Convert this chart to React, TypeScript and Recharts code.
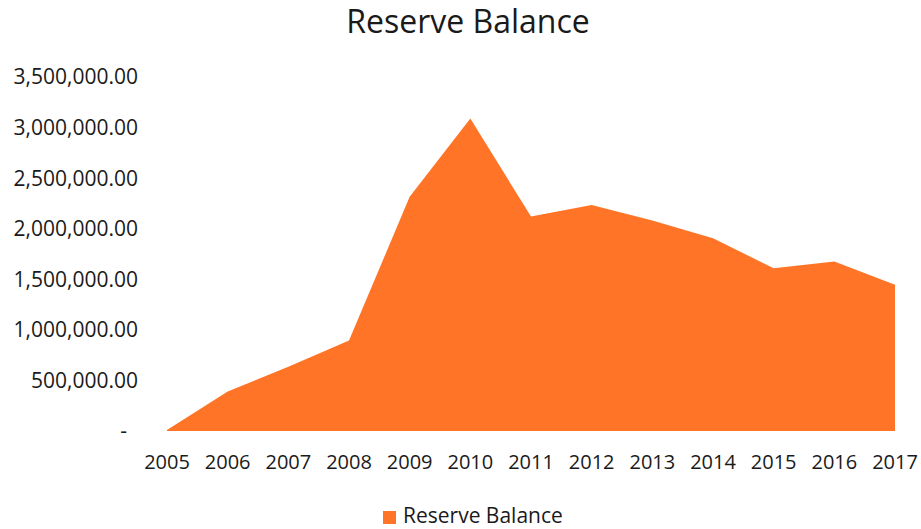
import { AreaChart, Area, XAxis, YAxis } from "recharts";

const years = ["2005", "2006", "2007", "2008", "2009", "2010", "2011", "2012", "2013", "2014", "2015", "2016", "2017"];
const balances = [10000, 390000, 635000, 895000, 2315000, 3090000, 2120000, 2235000, 2080000, 1905000, 1610000, 1675000, 1445000];
const yTicks = [0, 500000, 1000000, 1500000, 2000000, 2500000, 3000000, 3500000];

const data = years.map((year, i) => ({ year, balance: balances[i] }));

const ORANGE = "#FF7426";
const TEXT = "#1a1a1a";
const FONT = "'Open Sans', sans-serif";

const fmt = (v: number) =>
  v.toLocaleString("en-US", { minimumFractionDigits: 2, maximumFractionDigits: 2 });

// Excel accounting format: zero shows as a dash, sitting a bit left
const YTick = ({ x, y, payload }: any) => {
  const v = payload.value as number;
  return (
    <text
      x={v === 0 ? x - 11 : x}
      y={y}
      dy="0.355em"
      textAnchor="end"
      fill={TEXT}
      fontSize={21}
      fontFamily={FONT}
    >
      {v === 0 ? "-" : fmt(v)}
    </text>
  );
};

export default function App() {
  return (
    <div style={{ position: "absolute", left: 0, top: 0, width: 921, height: 529, background: "#fff", fontFamily: FONT }}>
      <div
        style={{
          position: "absolute",
          left: 468,
          top: 5,
          transform: "translateX(-50%)",
          fontSize: 32,
          lineHeight: 1,
          color: TEXT,
          whiteSpace: "nowrap",
        }}
      >
        Reserve Balance
      </div>

      <AreaChart width={921} height={529} data={data} margin={{ top: 77, right: 26, left: 0, bottom: 68 }}>
        <XAxis
          dataKey="year"
          tickLine={false}
          axisLine={false}
          interval={0}
          tickMargin={18}
          tick={{ fontSize: 20, fill: TEXT, fontFamily: FONT }}
        />
        <YAxis
          width={167}
          domain={[0, 3500000]}
          ticks={yTicks}
          tickLine={false}
          axisLine={false}
          tickMargin={23}
          tick={<YTick />}
        />
        <Area
          type="linear"
          dataKey="balance"
          stroke="none"
          fill={ORANGE}
          fillOpacity={1}
          dot={false}
          activeDot={false}
          isAnimationActive={false}
        />
      </AreaChart>

      <div style={{ position: "absolute", left: 383, top: 511, width: 13, height: 13, background: ORANGE }} />
      <div
        style={{
          position: "absolute",
          left: 403,
          top: 505,
          fontSize: 21,
          lineHeight: 1,
          color: TEXT,
          whiteSpace: "nowrap",
        }}
      >
        Reserve Balance
      </div>
    </div>
  );
}
